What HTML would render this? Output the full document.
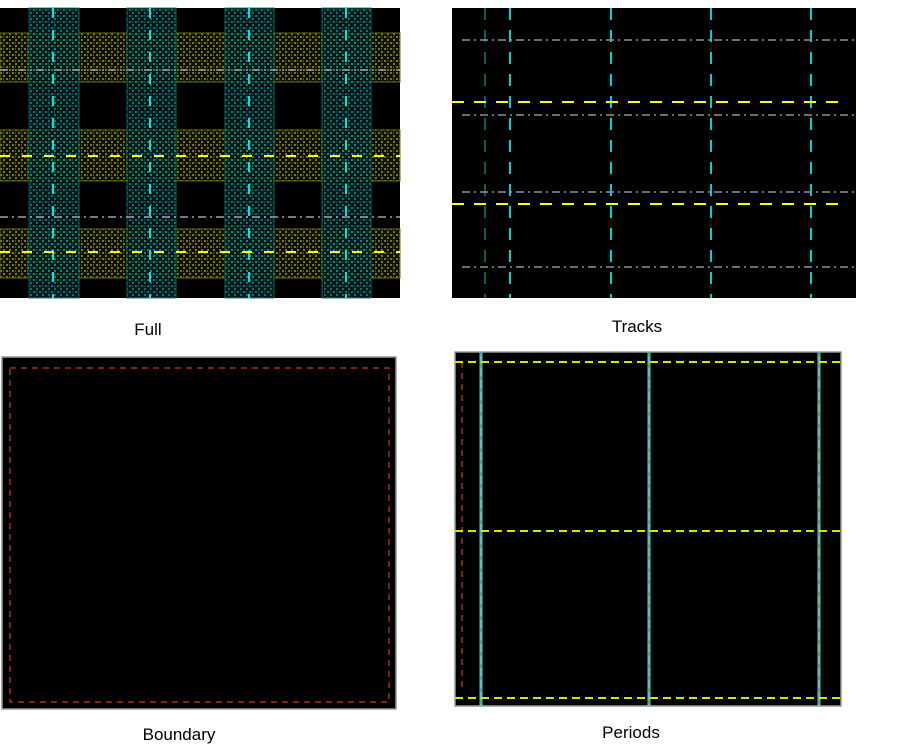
<!DOCTYPE html>
<html><head><meta charset="utf-8"><style>
body{margin:0;background:#fff;width:916px;height:755px;overflow:hidden;font-family:"Liberation Sans",sans-serif}
svg{position:absolute;left:0;top:0}
</style></head><body>
<svg id="s" width="916" height="755">
<defs>
<pattern id="py" width="6" height="6" patternUnits="userSpaceOnUse"><rect width="6" height="6" fill="#101000"/><rect x="0" y="0" width="2" height="2" fill="#7a7a00"/><rect x="3" y="3" width="2" height="2" fill="#7a7a00"/><rect x="3" y="0" width="1" height="2" fill="#505000"/></pattern>
<pattern id="pc" width="6" height="6" patternUnits="userSpaceOnUse"><rect width="6" height="6" fill="#001818"/><rect x="0" y="0" width="2" height="2" fill="#008a8a"/><rect x="3" y="3" width="2" height="2" fill="#008a8a"/><rect x="0" y="3" width="1" height="2" fill="#006060"/></pattern>
</defs>
<g id="full"></g>
<g id="tracks"></g>
<g id="bound"></g>
<g id="per"></g>
<text x="148" y="335" font-size="17" text-anchor="middle" fill="#000">Full</text>
<text x="637" y="332" font-size="17" text-anchor="middle" fill="#000">Tracks</text>
<text x="179" y="740" font-size="17" text-anchor="middle" fill="#000">Boundary</text>
<text x="631" y="738" font-size="17" text-anchor="middle" fill="#000">Periods</text>
</svg>
<script>
const NS="http://www.w3.org/2000/svg";
// Full panel data
const fullBandsY=[[33,82],[130,181],[229,278]];
const fullColsX=[[29,79],[127,176],[225,274],[322,371]];
const fullCyanX=[53,150,249,346];
const fullYellowY=[156,252];
const fullGrayY=[70,217];
// Tracks panel data
const trackCyanX=[510,611,711,811];
const trackDimX=[485];
const trackYellowY=[102,204];
const trackGrayY=[40,115,192,267];
// Periods panel data
const perCyanX=[481,649,819];
const perYellowY=[362,531,698];

function mk(g,tag,a){const e=document.createElementNS(NS,tag);for(const k in a)e.setAttribute(k,a[k]);g.appendChild(e);return e;}
function line(g,x1,y1,x2,y2,c,dash,w,name){const e=mk(g,'line',{x1,y1,x2,y2,stroke:c,'stroke-width':w||2,'stroke-dasharray':dash||''});

return e;}

const F=document.getElementById('full');
mk(F,'rect',{x:0,y:8,width:400,height:290,fill:'#000'});
fullBandsY.forEach(b=>{const r=mk(F,'rect',{x:0,y:b[0],width:400,height:b[1]-b[0],fill:'url(#py)',stroke:'#6a6a00','stroke-width':1});

});
fullColsX.forEach(c=>{const r=mk(F,'rect',{x:c[0],y:8,width:c[1]-c[0],height:290,fill:'url(#pc)',stroke:'#007070','stroke-width':1,opacity:0.85});

});
fullCyanX.forEach(x=>line(F,x,8,x,298,'#00e5e5','10 12',2,'track-vertical'));
fullYellowY.forEach(y=>line(F,0,y,400,y,'#ffff00','10 12',2,'track-horizontal'));
fullGrayY.forEach(y=>line(F,0,y,400,y,'#a0a0b0','8 4 2 4',1.5,'track-dashdot'));

const T=document.getElementById('tracks');
mk(T,'rect',{x:452,y:8,width:404,height:290,fill:'#000'});
trackDimX.forEach(x=>line(T,x,8,x,298,'#006060','12 10',2,'track-dim'));
trackCyanX.forEach(x=>line(T,x,8,x,298,'#00d0d0','12 10',2,'track-vertical'));
trackGrayY.forEach(y=>line(T,462,y,856,y,'#9090a0','8 4 2 4',1.5,'track-dashdot'));
trackYellowY.forEach(y=>line(T,452,y,846,y,'#ffff00','12 10',2,'track-horizontal'));

const B=document.getElementById('bound');
mk(B,'rect',{x:2,y:357,width:394,height:352,fill:'#000',stroke:'#999','stroke-width':1.5});
const br=mk(B,'rect',{x:10,y:368,width:379,height:334,fill:'none',stroke:'#c83a18','stroke-width':1.2,'stroke-dasharray':'6 5'});



const P=document.getElementById('per');
mk(P,'rect',{x:455,y:352,width:386,height:354,fill:'#000',stroke:'#999','stroke-width':1.5});
line(P,462,362,462,692,'#802010','6 5',2,'boundary-edge');
perCyanX.forEach(x=>{line(P,x,352,x,706,'#60c0c0',null,3,'period-vertical');line(P,x,352,x,706,'#30a040','4 8',1,'period-vertical-inner');});
perYellowY.forEach(y=>line(P,455,y,841,y,'#e0e000','8 5',2,'period-horizontal'));
</script>
</body></html>
